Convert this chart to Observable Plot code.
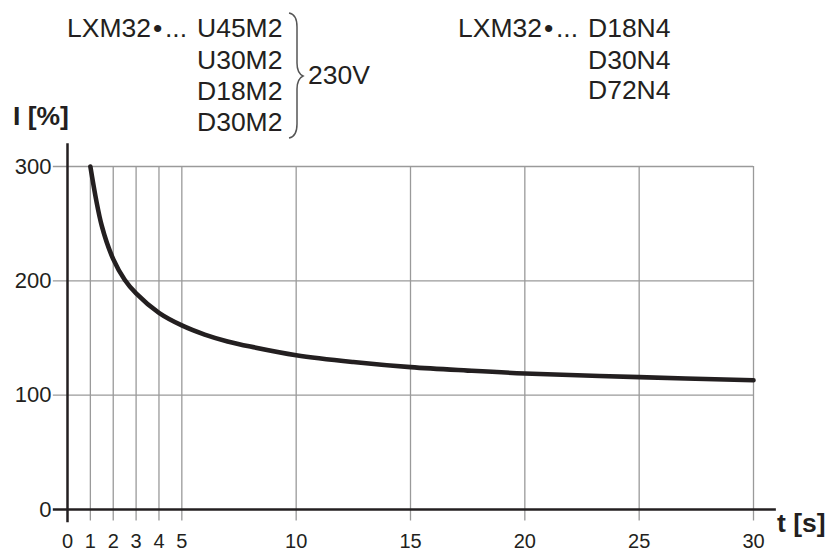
<!DOCTYPE html>
<html>
<head>
<meta charset="utf-8">
<script src="https://cdn.jsdelivr.net/npm/d3@7"></script>
<script src="https://cdn.jsdelivr.net/npm/@observablehq/plot@0.6"></script>
<style>
  html, body { margin: 0; padding: 0; background: #fff; }
  #chart { width: 828px; height: 552px; }
  svg { font-family: "Liberation Sans", Arial, Helvetica, sans-serif; }
</style>
</head>
<body>
<div id="chart"></div>
<script>
// Data
const tValues = [1, 1.5, 2, 2.5, 3, 4, 5, 6, 7, 8, 10, 12.5, 15, 17.5, 20, 25, 30];
const iValues = [300, 248, 219, 201, 189, 172, 161, 153, 147, 142.5, 135, 129, 124.5, 121.5, 119, 115.8, 113];
const xTicks = [0, 1, 2, 3, 4, 5, 10, 15, 20, 25, 30];
const yTicks = [0, 100, 200, 300];
const xGrid = [1, 2, 3, 4, 5, 10, 15, 20, 25, 30];
const yGrid = [100, 200, 300];
const leftModels = ["U45M2", "U30M2", "D18M2", "D30M2"];
const rightModels = ["D18N4", "D30N4", "D72N4"];
const prefix = "LXM32";
const voltage = "230V";
const yLabel = "I [%]";
const xLabel = "t [s]";

const curve = tValues.map((t, k) => ({t, i: iValues[k]}));
const ink = "#231f20";
const gridColor = "#9a9a9a";

const chart = Plot.plot({
  width: 828,
  height: 552,
  marginLeft: 67,
  marginRight: 75,
  marginTop: 166,
  marginBottom: 43,
  style: {fontFamily: "Liberation Sans, Arial, sans-serif", color: ink, background: "#fff"},
  x: {domain: [0, 30]},
  y: {domain: [0, 300]},
  marks: [
    Plot.ruleY(yGrid, {y: d => d, x1: -0.62, x2: 30, stroke: gridColor, strokeWidth: 1.3}),
    Plot.ruleX(xGrid, {x: d => d, y1: -10, y2: 300, stroke: gridColor, strokeWidth: 1.3}),
    Plot.ruleX([0], {x: d => d, y1: -11.5, y2: 320, stroke: ink, strokeWidth: 2.5}),
    Plot.ruleY([0], {y: d => d, x1: -0.62, x2: 31, stroke: ink, strokeWidth: 2.5}),
    Plot.line(curve, {x: "t", y: "i", stroke: ink, strokeWidth: 4.6, curve: "catmull-rom"}),
    Plot.axisY({ticks: yTicks, tickSize: 0, tickPadding: 16, label: null, fontSize: 22, tickFormat: d => String(d)}),
    Plot.axisX({ticks: xTicks, tickSize: 0, tickPadding: 24, label: null, fontSize: 20, tickFormat: d => String(d)})
  ]
});

document.getElementById("chart").appendChild(chart);

const svg = d3.select(chart);
const hdr = svg.append("g")
  .attr("font-family", "Liberation Sans, Arial, sans-serif")
  .attr("font-size", 26.5)
  .attr("text-anchor", "start")
  .attr("fill", ink);

const leftBase = [37, 69, 100, 131];
leftModels.forEach((m, k) => {
  const tx = hdr.append("text").attr("y", leftBase[k]).attr("text-anchor", "start");
  if (k === 0) {
    tx.append("tspan").attr("x", 67).text(prefix);
    tx.append("tspan").attr("x", 153).text("•");
    tx.append("tspan").attr("x", 165).text("...");
  }
  tx.append("tspan").attr("x", 197).text(m);
});

const rightBase = [37, 69, 99];
rightModels.forEach((m, k) => {
  const tx = hdr.append("text").attr("y", rightBase[k]).attr("text-anchor", "start");
  if (k === 0) {
    tx.append("tspan").attr("x", 458).text(prefix);
    tx.append("tspan").attr("x", 544).text("•");
    tx.append("tspan").attr("x", 556).text("...");
  }
  tx.append("tspan").attr("x", 588).text(m);
});

hdr.append("text").attr("x", 308).attr("y", 84).attr("text-anchor", "start").text(voltage);

hdr.append("path")
  .attr("d", "M289,13 C295,14 297,19 297,27 L297,63 C297,70 299,74 303,76 C299,78 297,82 297,89 L297,124 C297,132 295,137 289,138")
  .attr("fill", "none")
  .attr("stroke", "#555")
  .attr("stroke-width", 1.5);

hdr.append("text").attr("x", 13).attr("y", 125).attr("font-weight", "bold").attr("text-anchor", "start").text(yLabel);
hdr.append("text").attr("x", 777).attr("y", 532).attr("font-weight", "bold").attr("text-anchor", "start").text(xLabel);
</script>
</body>
</html>
